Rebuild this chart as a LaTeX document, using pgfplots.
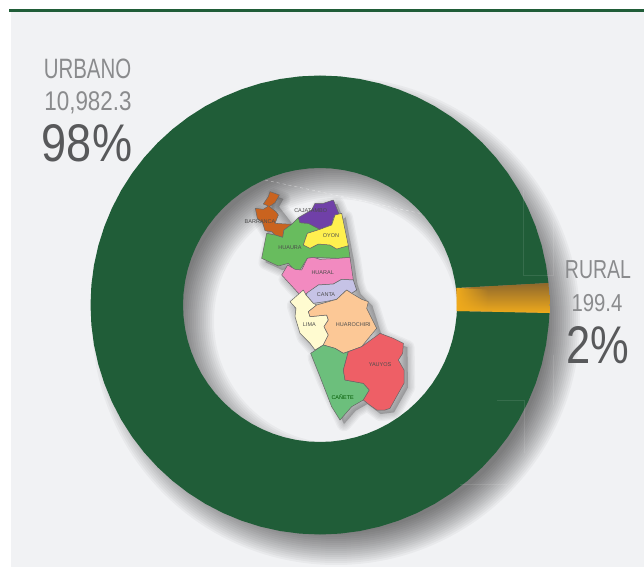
\documentclass[border=0pt]{standalone}
\usepackage{fontspec}
\setmainfont{Liberation Sans}
\usepackage{pgfplots}
\pgfplotsset{compat=1.18}
\usetikzlibrary{fadings}
\definecolor{panel}{HTML}{F1F2F4}
\definecolor{ring}{HTML}{205D38}
\definecolor{goldL}{HTML}{EFAA1C}
\definecolor{goldD}{HTML}{8F682C}
\definecolor{txt}{HTML}{8A8B8D}
\definecolor{txtd}{HTML}{58595B}
\definecolor{mBar}{HTML}{C9631F}
\definecolor{mPur}{HTML}{7040A8}
\definecolor{mYel}{HTML}{FFF04F}
\definecolor{mGre}{HTML}{68BC5E}
\definecolor{mPin}{HTML}{F28AC0}
\definecolor{mLav}{HTML}{C6C3E6}
\definecolor{mPea}{HTML}{FCC896}
\definecolor{mCre}{HTML}{FFFBD0}
\definecolor{mRed}{HTML}{EE5F66}
\definecolor{mCan}{HTML}{6CBF7C}
\definecolor{mBor}{HTML}{666666}
\newcommand{\fs}[1]{\fontsize{#1}{#1}\selectfont}
\pgfplotsset{base/.style={at={(0,0)},anchor=south west,scale only axis,hide axis,width=644pt,height=567pt}}
\begin{document}
\begin{tikzpicture}
\path[use as bounding box,fill=white] (0,0) rectangle (644pt,567pt);
\begin{axis}[base,xmin=-320,xmax=324,ymin=-262,ymax=305,no markers]
\addplot[fill=panel,draw=none] coordinates {(-309,293)(324,293)(324,-262)(-309,-262)} --cycle;
\addplot[ring,line width=2.6pt] coordinates {(-311,294.2)(324,294.2)};
% soft shadow of the ring
\pgfplotsinvokeforeach{-16,-14,...,16}{
  \fill[even odd rule,fill=black,fill opacity=0.034] (16,-16) circle [radius={(228+#1)*1pt}] (16,-16) circle [radius={(138-#1)*1pt}];
}
% URBANO 98%
\addplot[fill=ring,draw=none,data cs=polar] coordinates {
(5.5,229.5)(10,229.5)(15,229.5)(20,229.5)(25,229.5)(30,229.5)(35,229.5)(40,229.5)(45,229.5)(50,229.5)(55,229.5)(60,229.5)(65,229.5)(70,229.5)(75,229.5)(80,229.5)(85,229.5)(90,229.5)(95,229.5)(100,229.5)(105,229.5)(110,229.5)(115,229.5)(120,229.5)(125,229.5)(130,229.5)(135,229.5)(140,229.5)(145,229.5)(150,229.5)(155,229.5)(160,229.5)(165,229.5)(170,229.5)(175,229.5)(180,229.5)(185,229.5)(190,229.5)(195,229.5)(200,229.5)(205,229.5)(210,229.5)(215,229.5)(220,229.5)(225,229.5)(230,229.5)(235,229.5)(240,229.5)(245,229.5)(250,229.5)(255,229.5)(260,229.5)(265,229.5)(270,229.5)(275,229.5)(280,229.5)(285,229.5)(290,229.5)(295,229.5)(300,229.5)(305,229.5)(310,229.5)(315,229.5)(320,229.5)(325,229.5)(330,229.5)(335,229.5)(340,229.5)(345,229.5)(350,229.5)(355,229.5)(358,229.5)
(357.5,137)(355,137)(350,137)(345,137)(340,137)(335,137)(330,137)(325,137)(320,137)(315,137)(310,137)(305,137)(300,137)(295,137)(290,137)(285,137)(280,137)(275,137)(270,137)(265,137)(260,137)(255,137)(250,137)(245,137)(240,137)(235,137)(230,137)(225,137)(220,137)(215,137)(210,137)(205,137)(200,137)(195,137)(190,137)(185,137)(180,137)(175,137)(170,137)(165,137)(160,137)(155,137)(150,137)(145,137)(140,137)(135,137)(130,137)(125,137)(120,137)(115,137)(110,137)(105,137)(100,137)(95,137)(90,137)(85,137)(80,137)(75,137)(70,137)(65,137)(60,137)(55,137)(50,137)(45,137)(40,137)(35,137)(30,137)(25,137)(20,137)(15,137)(10,137)(7.1,137)
} --cycle;
% RURAL 2%
\addplot[top color=goldD,bottom color=goldL,draw=none,data cs=polar] coordinates {
(5.5,229.5)(3,229.5)(0,229.5)(358,229.5)(357.5,137)(0,137)(3.5,137)(7.1,137)} --cycle;
\addplot[fill=goldL,draw=none,path fading=east] coordinates {(136.5,17.2)(168,15.4)(168,-6.2)(136.5,-6.2)} --cycle;
% faint lines in the shadow
\addplot[white,opacity=.1,line width=.5pt] coordinates {(177,-95)(204,-95)(204,-148)};
\addplot[white,opacity=.1,line width=.5pt] coordinates {(140,-179)(187,-179)};
\addplot[white,opacity=.1,line width=.5pt] coordinates {(203,115)(203,30)(233,30)(233,85)};
\addplot[white,opacity=.1,line width=.5pt] coordinates {(233,-50)(233,-100)};
% labels
\node[anchor=base,inner sep=0,text=txt,xscale=.73] at (-232.5,226.5) {\fs{28}URBANO};
\node[anchor=base,inner sep=0,text=txt,xscale=.83] at (-232,194.3) {\fs{27}10,982.3};
\node[anchor=base,inner sep=0,text=txtd,xscale=.85] at (-233,143.3) {\fs{53}98\%};
\node[anchor=base,inner sep=0,text=txt,xscale=.75] at (278,26.7) {\fs{26}RURAL};
\node[anchor=base,inner sep=0,text=txt,xscale=.83] at (277,-6.7) {\fs{24.5}199.4};
\node[anchor=base,inner sep=0,text=txtd,xscale=.82] at (277.5,-58.3) {\fs{53}2\%};
\end{axis}
\begin{axis}[base,xmin=-660,xmax=1272,ymin=-540,ymax=1161,y dir=reverse,no markers]
\draw[white,opacity=.5,dashed,line width=.4pt] (135,0) -- (600,100);
% shadow of the map
\pgfplotsinvokeforeach{44,36,28,20,12,4}{
\addplot[fill=black,draw=black,line width=#1*.33pt,opacity=.035,line join=round] coordinates {(162,47)(190,57)(177,80)(227,145)(247,125)(287,102)(297,82)(352,72)(370,117)(377,112)(402,244)(412,312)(422,342)(457,377)(482,457)(492,472)(562,502)(564,622)(522,697)(482,702)(442,672)(407,692)(372,732)(312,602)(284,532)(297,522)(252,472)(222,377)(262,342)(252,357)(197,297)(217,262)(187,270)(137,247)(152,172)(124,127)(120,97)(152,92)} --cycle;
}
\pgfplotsset{every axis plot/.append style={draw=mBor,line width=.5pt,line join=round}}
\addplot[fill=mBar] coordinates {(150,35)(178,45)(165,68)(148,80)(168,95)(175,105)(165,130)(215,133)(192,150)(188,172)(165,165)(155,155)(135,152)(128,128)(112,115)(106,85)(130,88)(145,78)(130,72)(145,50)} --cycle;
\addplot[fill=mGre] coordinates {(235,113)(240,128)(265,130)(300,148)(262,160)(250,195)(270,205)(295,192)(330,195)(350,207)(385,197)(390,232)(355,235)(280,232)(262,235)(240,270)(225,272)(205,250)(175,258)(125,235)(140,160)(165,165)(188,172)(192,150)(215,133)} --cycle;
\addplot[fill=mPur] coordinates {(235,113)(275,90)(285,70)(310,70)(340,60)(358,105)(340,112)(335,135)(300,148)(265,130)(240,128)} --cycle;
\addplot[fill=mYel] coordinates {(345,105)(365,100)(385,197)(350,207)(330,195)(295,192)(270,205)(250,195)(262,160)(300,148)(335,135)} --cycle;
\addplot[fill=mPin] coordinates {(280,232)(300,238)(355,235)(390,232)(400,300)(365,298)(340,312)(295,315)(262,340)(240,345)(185,285)(203,255)(225,268)(245,270)(262,235)} --cycle;
\addplot[fill=mLav] coordinates {(400,300)(410,330)(395,340)(380,330)(350,358)(315,365)(280,370)(258,345)(262,338)(295,315)(340,312)(365,298)} --cycle;
\addplot[fill=mCre] coordinates {(250,330)(258,345)(280,370)(290,375)(265,395)(270,410)(320,405)(325,420)(312,440)(325,465)(310,495)(285,510)(270,490)(240,460)(225,410)(228,385)(210,365)} --cycle;
\addplot[fill=mPea] coordinates {(380,330)(395,340)(425,358)(445,365)(440,385)(470,445)(445,475)(425,500)(370,520)(345,505)(310,495)(325,465)(312,440)(325,420)(320,405)(270,410)(265,395)(290,375)(350,358)} --cycle;
\addplot[fill=mCan] coordinates {(310,495)(345,505)(370,520)(385,515)(370,570)(375,600)(430,610)(448,630)(430,660)(395,680)(360,720)(335,680)(300,590)(272,520)} --cycle;
\addplot[fill=mRed] coordinates {(480,460)(520,475)(550,490)(548,520)(535,540)(552,570)(552,610)(535,640)(510,685)(495,690)(470,690)(445,672)(430,660)(448,630)(430,610)(375,600)(370,570)(385,515)(425,500)} --cycle;
\tikzset{mp/.style={inner sep=0,text=black!70,font=\fs{5.5}}}
\node[mp] at (120,124) {BARRANCA};
\node[mp] at (272,92) {CAJATAMBO};
\node[mp] at (333,168) {OYON};
\node[mp] at (210,203) {HUAURA};
\node[mp] at (308,277) {HUARAL};
\node[mp] at (318,343) {CANTA};
\node[mp] at (268,433) {LIMA};
\node[mp] at (400,435) {HUAROCHIRI};
\node[mp] at (480,553) {YAUYOS};
\node[mp,text=green!35!black] at (368,650) {CAÑETE};
\end{axis}
\end{tikzpicture}
\end{document}
